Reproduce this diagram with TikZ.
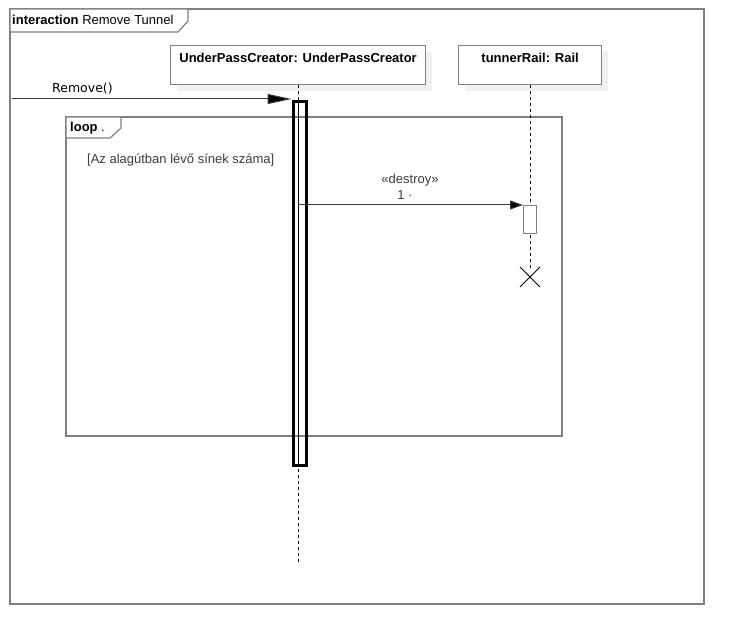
\documentclass[tikz,border=0pt]{standalone}
\usepackage{fontspec}
\setmainfont{Liberation Sans}
\newfontfamily\djv{DejaVu Sans}
\usetikzlibrary{arrows.meta}
\definecolor{framegray}{RGB}{128,128,128}
\definecolor{shadowgray}{RGB}{240,240,240}
\definecolor{textgray}{RGB}{60,60,60}
\tikzset{
  frameline/.style={draw=framegray, line width=1.2pt},
  lifebox/.style={draw=framegray, line width=1.2pt, fill=white, minimum height=39pt, anchor=north west, inner sep=0pt},
  lifename/.style={font=\fontsize{13}{15}\selectfont\bfseries, text=black, anchor=north},
  lifeline/.style={draw=black, dash pattern=on 3pt off 3pt, line width=0.8pt},
  msg/.style={draw=textgray, line width=1pt},
  lbl/.style={font=\fontsize{13}{15}\selectfont, text=textgray, inner sep=0pt},
}
\begin{document}
\begin{tikzpicture}[x=1pt,y=-1pt]
\useasboundingbox (0,0) rectangle (744,644);
% outer frame
\draw[frameline] (10,9) rectangle (704,604);
\draw[frameline, fill=white] (10,9) -- (188,9) -- (188,21) -- (178,32) -- (10,32) -- cycle;
\node[anchor=west, inner sep=0pt, font=\fontsize{13}{15}\selectfont] (title) at (12,20) {\textbf{interaction} Remove Tunnel};

% lifeline boxes with shadows
\fill[shadowgray] (177,52) rectangle (432,91);
\fill[shadowgray] (465,51) rectangle (608,91);
\node[lifebox, minimum width=255pt] (upc) at (170,45) {};
\node[lifename] (upcname) at ([yshift=-5pt]upc.north) {UnderPassCreator: UnderPassCreator};
\node[lifebox, minimum width=143pt] (rail) at (458,45) {};
\node[lifename] (railname) at ([yshift=-5pt]rail.north) {tunnerRail: Rail};

% loop frame
\draw[frameline] (66,117) rectangle (562,436);
\draw[frameline, fill=white] (66,117) -- (121,117) -- (121,128) -- (110,138) -- (66,138) -- cycle;
\node[anchor=west, inner sep=0pt, font=\fontsize{13}{15}\selectfont] (looplbl) at (70,128) {\textbf{loop} .};
\node[lbl, anchor=west] (guard) at (87,160) {[Az alagútban lévő sínek száma]};

% lifelines
\coordinate (upcend) at (298,562);
\coordinate (railend) at (530,268);
\draw[lifeline] (upc.south -| upcend) -- (upcend);
\draw[lifeline] (rail.south -| railend) -- (railend);

% activation bars
\node[draw=black, line width=3pt, fill=none, minimum width=13pt, minimum height=364pt, anchor=north, inner sep=0pt] (act1) at (299.5,100) {};
\draw[lifeline] (298,100) -- (298,465);
\node[draw=framegray, line width=1pt, fill=white, minimum width=13pt, minimum height=28pt, anchor=north west, inner sep=0pt] (act2) at (523,205) {};

% found message Remove()
\coordinate (start) at (12,99);
\draw[msg, -{Triangle[length=24pt,width=10pt,fill=black]}] (start) -- (act1.north west |- start);
\node[font=\djv\fontsize{12.5}{14}\selectfont, anchor=west, inner sep=0pt, text=black] (removelbl) at (52,89) {Remove()};

% destroy message
\coordinate (dstart) at (298,205);
\draw[msg, -{Triangle[length=13pt,width=9pt,fill=black]}] (dstart) -- (act2.north west);
\node[lbl] (stereo) at (410,180) {«destroy»};
\node[lbl] (seq) at (405,195) {1 ·};

% destruction X
\coordinate (xc) at (530,277);
\draw[black, line width=0.8pt] ([shift={(-10,-10)}]xc) -- ([shift={(10,10)}]xc);
\draw[black, line width=0.8pt] ([shift={(-10,10)}]xc) -- ([shift={(10,-10)}]xc);
\end{tikzpicture}
\end{document}
